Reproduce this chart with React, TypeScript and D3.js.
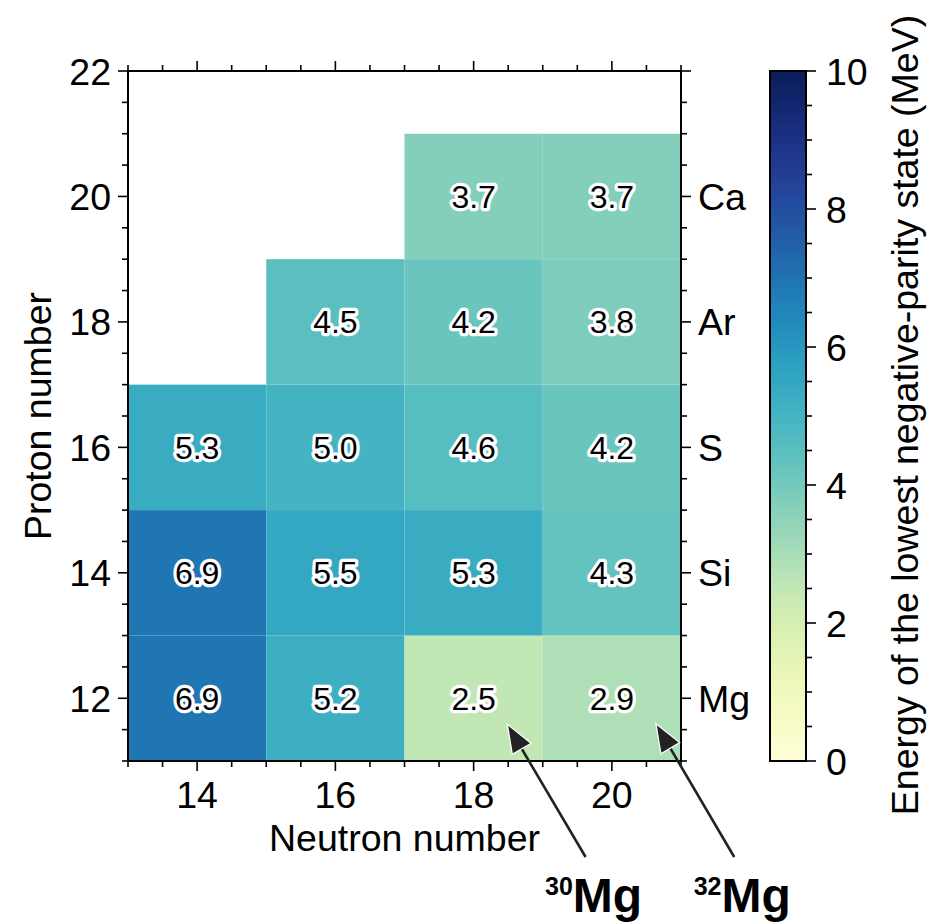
import React from 'react';
import * as d3 from 'd3';

// lowest negative-parity state energies, MeV
const cellN = [14, 14, 14, 16, 16, 16, 16, 18, 18, 18, 18, 18, 20, 20, 20, 20, 20];
const cellZ = [12, 14, 16, 12, 14, 16, 18, 12, 14, 16, 18, 20, 12, 14, 16, 18, 20];
const cellE = [6.9, 6.9, 5.3, 5.2, 5.5, 5.0, 4.5, 2.5, 5.3, 4.6, 4.2, 3.7, 2.9, 4.3, 4.2, 3.8, 3.7];

const xTicks = [14, 16, 18, 20];
const yTicks = [12, 14, 16, 18, 20, 22];
const elemZ = [12, 14, 16, 18, 20];
const elemNames = ['Mg', 'Si', 'S', 'Ar', 'Ca'];
const cbarTicks = [0, 2, 4, 6, 8, 10];

// annotated isotopes: arrow tip (x, y), text position (tx, ty)
const annMass = ['30', '32'];
const annX = [18.5, 20.65];
const annY = [11.56, 11.57];
const annTX = [19.62, 21.77];
const annTY = [9.47, 9.47];

const FONT = '"Liberation Sans", Arial, Helvetica, sans-serif';
const FS = 37.5;

const App = () => {
  const x = d3.scaleLinear().domain([13, 21]).range([128, 681]);
  const y = d3.scaleLinear().domain([11, 22]).range([761, 71]);
  const c = d3.scaleLinear().domain([0, 10]).range([761, 71]);
  const color = (v: number) => d3.interpolateYlGnBu(v / 10);

  const xMinor = d3.range(13, 21.01, 0.5);
  const yMinor = d3.range(11, 22.01, 0.5);
  const cMinor = d3.range(0, 10.01, 0.5);

  const stops = d3.range(0, 1.0001, 0.02);
  const cbX0 = 770, cbX1 = 806;

  const arrows = annMass.map((m, i) => {
    const x1 = x(annX[i]), y1 = y(annY[i]);
    const x0 = x(annTX[i]), y0 = y(annTY[i]);
    const ang = Math.atan2(y1 - y0, x1 - x0);
    const hl = 26, hw = 10;
    const bx = x1 - hl * Math.cos(ang), by = y1 - hl * Math.sin(ang);
    const px = -Math.sin(ang) * hw, py = Math.cos(ang) * hw;
    const head = `M${x1},${y1}L${bx + px},${by + py}L${bx - px},${by - py}Z`;
    return { m, x0, y0, bx, by, head };
  });

  return (
    <svg width={927} height={922} style={{ position: 'absolute', left: 0, top: 0 }} fontFamily={FONT}>
      <defs>
        <linearGradient id="cbar" x1="0" y1="1" x2="0" y2="0">
          {stops.map(s => (
            <stop key={s} offset={s} stopColor={d3.interpolateYlGnBu(s)} />
          ))}
        </linearGradient>
      </defs>

      {/* cells */}
      {cellE.map((e, i) => (
        <rect key={i} x={x(cellN[i] - 1)} y={y(cellZ[i] + 1)}
          width={x(cellN[i] + 1) - x(cellN[i] - 1)} height={y(cellZ[i] - 1) - y(cellZ[i] + 1)}
          fill={color(e)} />
      ))}
      {cellE.map((e, i) => (
        <text key={'t' + i} x={x(cellN[i])} y={y(cellZ[i])} textAnchor="middle" dy="0.36em"
          fontSize={32} fill="#000" stroke="#fff" strokeWidth={6.5} strokeLinejoin="round"
          style={{ paintOrder: 'stroke' }}>{e.toFixed(1)}</text>
      ))}

      {/* frame */}
      <rect x={128} y={71} width={553} height={690} fill="none" stroke="#000" strokeWidth={2} />

      {/* bottom/top ticks */}
      {xMinor.map(v => {
        const major = xTicks.includes(v);
        const l = major ? 10 : 6;
        return (
          <g key={'x' + v} stroke="#000" strokeWidth={1.6}>
            <line x1={x(v)} x2={x(v)} y1={761} y2={761 + l} />
            <line x1={x(v)} x2={x(v)} y1={71} y2={71 - l} />
          </g>
        );
      })}
      {xTicks.map(v => (
        <text key={'xl' + v} x={x(v)} y={808} textAnchor="middle" fontSize={FS}>{v}</text>
      ))}

      {/* left/right ticks */}
      {yMinor.map(v => {
        const major = yTicks.includes(v);
        const l = major ? 10 : 6;
        return (
          <g key={'y' + v} stroke="#000" strokeWidth={1.6}>
            <line x1={128} x2={128 - l} y1={y(v)} y2={y(v)} />
            <line x1={681} x2={681 + l} y1={y(v)} y2={y(v)} />
          </g>
        );
      })}
      {yTicks.map(v => (
        <text key={'yl' + v} x={111} y={y(v)} dy="0.36em" textAnchor="end" fontSize={FS}>{v}</text>
      ))}
      {elemNames.map((n, i) => (
        <text key={'el' + n} x={698} y={y(elemZ[i])} dy="0.36em" fontSize={FS}>{n}</text>
      ))}

      <text x={x(17)} y={851} textAnchor="middle" fontSize={FS}>Neutron number</text>
      <text transform={`translate(51,${y(16.5)}) rotate(-90)`} textAnchor="middle" fontSize={FS}>Proton number</text>

      {/* colorbar */}
      <rect x={cbX0} y={71} width={cbX1 - cbX0} height={690} fill="url(#cbar)" stroke="#000" strokeWidth={2} />
      {cMinor.map(v => {
        const major = cbarTicks.includes(v);
        return (
          <line key={'c' + v} x1={cbX1} x2={cbX1 + (major ? 10 : 6)} y1={c(v)} y2={c(v)}
            stroke="#000" strokeWidth={1.6} />
        );
      })}
      {cbarTicks.map(v => (
        <text key={'cl' + v} x={826} y={c(v)} dy="0.36em" fontSize={FS}>{v}</text>
      ))}
      <text transform={`translate(918,415) rotate(-90)`} textAnchor="middle" fontSize={FS}>
        Energy of the lowest negative-parity state (MeV)
      </text>

      {/* annotations */}
      {arrows.map(a => (
        <g key={'a' + a.m}>
          <line x1={a.x0} y1={a.y0} x2={a.bx} y2={a.by} stroke="#222" strokeWidth={2.6} />
          <path d={a.head} fill="#222" stroke="#fff" strokeWidth={2.5} strokeLinejoin="miter"
            style={{ paintOrder: 'stroke' }} />
          <text x={a.x0 + 8} y={912} textAnchor="middle" fontWeight="bold">
            <tspan fontSize={25} dy={-17}>{a.m}</tspan>
            <tspan fontSize={48} dy={17}>Mg</tspan>
          </text>
        </g>
      ))}
    </svg>
  );
};

export default App;
